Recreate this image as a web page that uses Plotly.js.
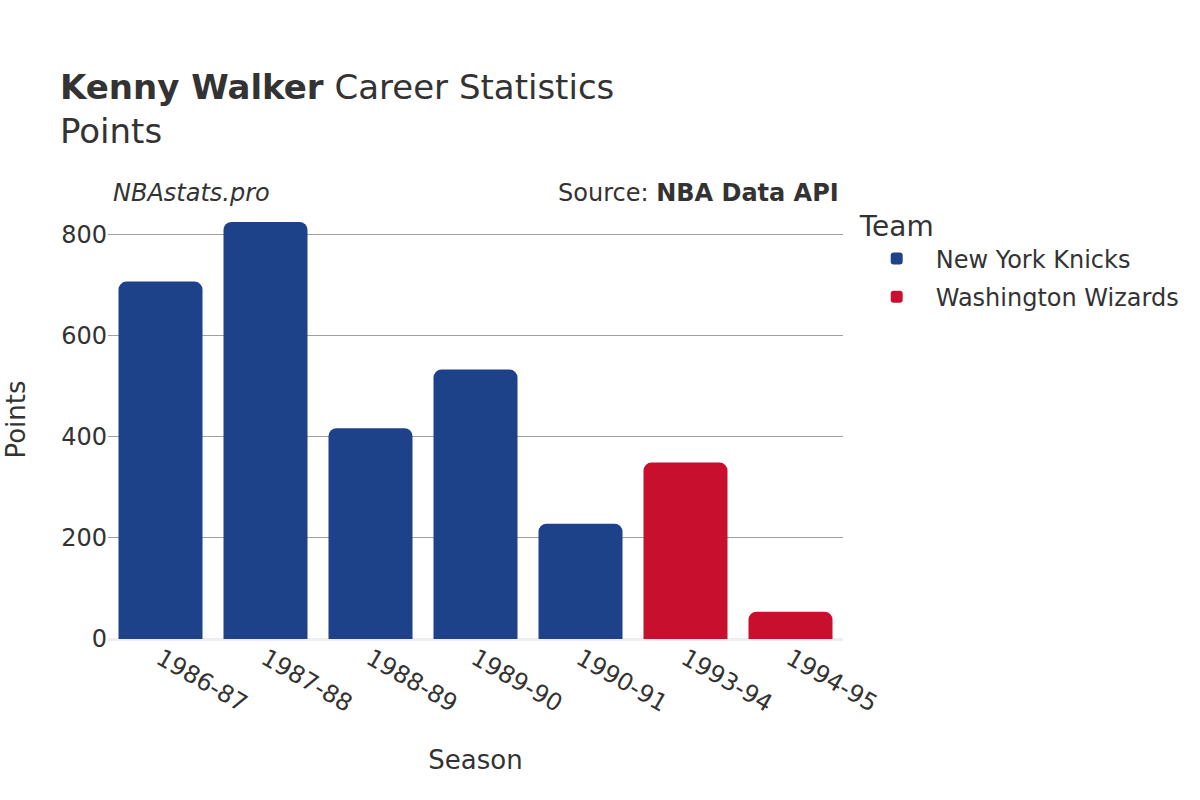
<!DOCTYPE html>
<html>
<head>
<meta charset="utf-8">
<script src="https://cdn.plot.ly/plotly-3.0.1.min.js"></script>
<style>
  html, body { margin: 0; padding: 0; background: #fff; }
  #chart { width: 1200px; height: 800px; }
</style>
</head>
<body>
<div id="chart"></div>
<script>
// Kenny Walker – Punkte pro Saison, nach Team
const knicksSeasons = ['1986-87', '1987-88', '1988-89', '1989-90', '1990-91'];
const knicksPoints = [707, 825, 417, 533, 228];

const wizardsSeasons = ['1993-94', '1994-95'];
const wizardsPoints = [349, 54];

const allSeasons = ['1986-87', '1987-88', '1988-89', '1989-90', '1990-91', '1993-94', '1994-95'];

const fontFamily = '"DejaVu Sans", Verdana, sans-serif';

const traces = [
    {
        x: knicksSeasons,
        y: knicksPoints,
        type: 'bar',
        name: 'New York Knicks',
        legendgroup: 'nyk',
        marker: { color: '#1D428A', cornerradius: 8 }
    },
    {
        x: wizardsSeasons,
        y: wizardsPoints,
        type: 'bar',
        name: 'Washington Wizards',
        legendgroup: 'was',
        marker: { color: '#C8102E', cornerradius: 8 }
    }
];

const layout = {
    width: 1200,
    height: 800,
    font: { family: fontFamily, size: 24, color: '#333' },
    paper_bgcolor: '#fff',
    plot_bgcolor: '#fff',
    margin: { l: 108, r: 357, t: 200, b: 161 },
    title: {
        text: '<b>Kenny Walker</b> Career Statistics<br>Points',
        font: { size: 34, color: '#333' },
        x: 0.05, xanchor: 'left',
        y: 0.876, yanchor: 'bottom'
    },
    barmode: 'relative',
    bargap: 0.2,
    xaxis: {
        title: { text: 'Season', font: { size: 26 }, standoff: 34 },
        categoryorder: 'array',
        categoryarray: allSeasons,
        tickangle: 30,
        tickfont: { size: 24 },
        showgrid: false
    },
    yaxis: {
        title: { text: 'Points', font: { size: 26 }, standoff: 28 },
        tickfont: { size: 24 },
        tickvals: [0, 200, 400, 600, 800],
        gridcolor: '#a0a0a0',
        zeroline: true,
        zerolinecolor: '#eeeeee',
        zerolinewidth: 3,
        ticks: ''
    },
    legend: {
        title: { text: 'Team', font: { size: 28 } },
        font: { size: 24 },
        x: 1.02, xanchor: 'left',
        y: 1.0, yanchor: 'top',
        traceorder: 'grouped',
        tracegroupgap: 4,
        itemwidth: 68
    },
    annotations: [
        {
            text: '<i>NBAstats.pro</i>',
            xref: 'paper', yref: 'paper',
            x: 0, y: 1.0, xanchor: 'left', yanchor: 'bottom',
            xshift: 3, yshift: -9,
            showarrow: false,
            font: { size: 24, color: '#333' }
        },
        {
            text: 'Source: <b>NBA Data API</b>',
            xref: 'paper', yref: 'paper',
            x: 1, y: 1.0, xanchor: 'right', yanchor: 'bottom',
            xshift: -2, yshift: -9,
            showarrow: false,
            font: { size: 24, color: '#333' }
        }
    ]
};

Plotly.newPlot('chart', traces, layout, { displayModeBar: false, responsive: false });
</script>
</body>
</html>
